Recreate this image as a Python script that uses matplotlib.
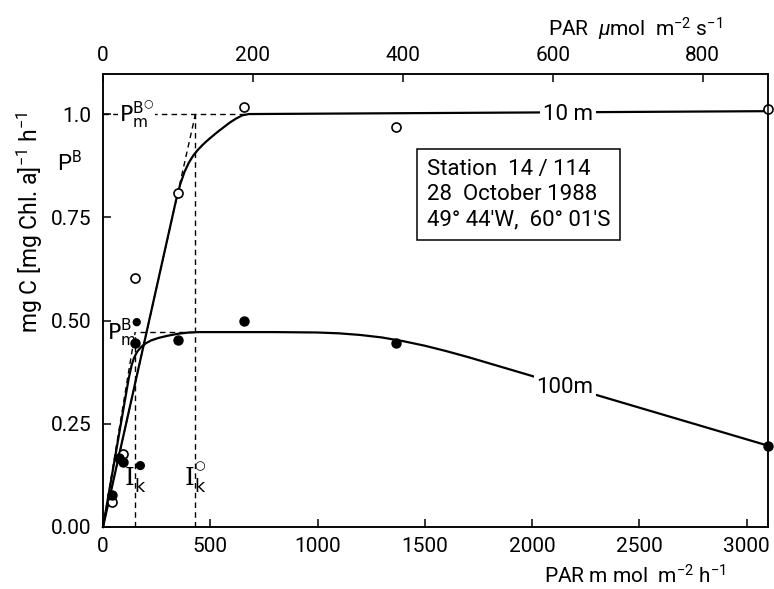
import matplotlib
matplotlib.use("Agg")
import matplotlib.pyplot as plt

plt.rcParams['font.family'] = ['Roboto', 'DejaVu Sans']
plt.rcParams['mathtext.fontset'] = 'custom'
plt.rcParams['mathtext.rm'] = 'Roboto'
plt.rcParams['mathtext.it'] = 'Roboto:italic'
plt.rcParams['mathtext.bf'] = 'Roboto:bold'
plt.rcParams['mathtext.sf'] = 'Roboto'

# Measured P^B values: 10 m (open circles) and 100 m (filled circles)
par_10m = [40, 95, 150, 350, 655, 1365, 3100]
pb_10m = [0.06, 0.177, 0.603, 0.808, 1.017, 0.969, 1.012]
par_100m = [40, 75, 95, 150, 350, 655, 1365, 3100]
pb_100m = [0.078, 0.167, 0.158, 0.445, 0.454, 0.499, 0.445, 0.196]

# Fitted P-I curves
fit_par_10m = [0, 340, 360, 380, 400, 420, 440, 460, 480, 500, 530, 560, 590,
               620, 650, 680, 3100]
fit_pb_10m = [0, 0.79, 0.83, 0.86, 0.882, 0.899, 0.912, 0.923, 0.933, 0.942,
              0.955, 0.967, 0.979, 0.989, 0.997, 1.0, 1.007]
fit_par_100m = [0, 120, 134, 145, 160, 180, 200, 225, 260, 300, 350, 400, 450,
                800, 1000, 1100, 1200, 1300, 1400, 1500, 1600, 1705, 3100]
fit_pb_100m = [0, 0.36, 0.393, 0.41, 0.425, 0.437, 0.445, 0.452, 0.458, 0.463,
               0.468, 0.471, 0.472, 0.472, 0.471, 0.469, 0.465, 0.459, 0.450,
               0.439, 0.426, 0.411, 0.197]

# Photosynthetic parameters (P_m^B and I_k)
pm_10m, ik_10m = 1.0, 431
pm_100m, ik_100m = 0.472, 150

x_ticks = [0, 500, 1000, 1500, 2000, 2500, 3000]
x_top_ticks = [0, 200, 400, 600, 800]
y_ticks = [0.0, 0.25, 0.5, 0.75, 1.0]
y_ticklabels = ['0.00', '0.25', '0.50', '0.75', '1.0']

fig = plt.figure(figsize=(7.74, 5.89), dpi=100)
ax = fig.add_axes([103 / 774, 62 / 589, 665 / 774, 453 / 589])
ax.set_xlim(0, 3100)
ax.set_ylim(0, 1.097)

dash = dict(color='black', lw=1.0, ls=(0, (4, 3)), zorder=2)
# 10 m: P_m line, I_k line and initial slope
ax.plot([0, 660], [pm_10m, pm_10m], **dash)
ax.plot([ik_10m, ik_10m], [0, pm_10m], **dash)
ax.plot([0, ik_10m], [0, pm_10m], **dash)
# 100 m
ax.plot([172, 431], [pm_100m, pm_100m], **dash)
ax.plot([ik_100m, ik_100m], [0, pm_100m], **dash)
ax.plot([0, ik_100m], [0, pm_100m], **dash)

ax.plot(fit_par_10m, fit_pb_10m, color='black', lw=1.6, zorder=3, clip_on=False)
ax.plot(fit_par_100m, fit_pb_100m, color='black', lw=1.6, zorder=3, clip_on=False)

ax.plot(par_10m, pb_10m, ls='none', marker='o', ms=6.5, mfc='white', mec='black',
        mew=1.2, zorder=5, clip_on=False)
ax.plot(par_100m, pb_100m, ls='none', marker='o', ms=6.5, mfc='black', mec='black',
        zorder=5, clip_on=False)

# Curve labels
ax.text(2168, 1.0, '10 m', fontsize=16, ha='center', va='center', zorder=4,
        bbox=dict(fc='white', ec='none', pad=2))
ax.text(2154, 0.339, '100m', fontsize=16, ha='center', va='center', zorder=4,
        bbox=dict(fc='white', ec='none', pad=2))

# P_m^B labels (open ring = 10 m, dot = 100 m)
ax.annotate('$\\mathsf{P}_\\mathsf{m}^{\\mathsf{B}^{\u25cb}}$', xy=(0, pm_10m),
            xytext=(16, 0), textcoords='offset pixels', fontsize=16, ha='left',
            va='center', zorder=4, math_fontfamily='dejavusans',
            bbox=dict(fc='white', ec='none', pad=0.5))
ax.annotate('$\\mathsf{P}_\\mathsf{m}^{\\mathsf{B}^{\u25cf}}$', xy=(0, pm_100m),
            xytext=(4, 0), textcoords='offset pixels', fontsize=16, ha='left',
            va='center', zorder=4, math_fontfamily='dejavusans')

# I_k labels
ax.annotate('$\\mathrm{I}_\\mathsf{k}^{{}^{\u25cf}}$', xy=(ik_100m, 0.119),
            xytext=(-11, 0), textcoords='offset pixels', fontsize=18, ha='left',
            va='center', math_fontfamily='dejavuserif')
ax.annotate('$\\mathrm{I}_\\mathsf{k}^{{}^{\u25cb}}$', xy=(ik_10m, 0.119),
            xytext=(-11, 0), textcoords='offset pixels', fontsize=18, ha='left',
            va='center', math_fontfamily='dejavuserif')

# P^B symbol beside the y axis
ax.text(-0.069, 0.88, r'P$^\mathrm{B}$', transform=ax.get_yaxis_transform(),
        fontsize=16, ha='left', va='center')

# Station box
ax.text(0.487, 0.812, 'Station  14 / 114\n28  October 1988\n49° 44\'W,  60° 01\'S',
        transform=ax.transAxes, fontsize=16, ha='left', va='top', linespacing=1.25,
        bbox=dict(boxstyle='square,pad=0.45', fc='white', ec='black', lw=1.1))

ax.set_xticks(x_ticks)
ax.set_xticklabels([str(v) for v in x_ticks])
ax.set_yticks(y_ticks)
ax.set_yticklabels(y_ticklabels)
ax.tick_params(axis='x', direction='in', length=6, width=1.1, labelsize=15, pad=7)
ax.tick_params(axis='y', direction='in', length=6, width=1.1, labelsize=15, pad=8.5)
for s in ax.spines.values():
    s.set_linewidth(1.1)

ax.set_xlabel(r'PAR m mol  m$^{-2}$ h$^{-1}$', fontsize=15)
ax.xaxis.set_label_coords(0.80, -0.108)
ax.xaxis.label.set_va('center')
ax.set_ylabel(r'mg C [mg Chl. a]$^{-1}$ h$^{-1}$', fontsize=16.5)
ax.yaxis.set_label_coords(-0.11, 0.673)
ax.yaxis.label.set_va('center')

ax2 = ax.twiny()
ax2.set_xlim(0, 887)
ax2.set_xticks(x_top_ticks)
ax2.set_xticklabels([str(v) for v in x_top_ticks])
ax2.tick_params(axis='x', direction='in', length=6, width=1.1, labelsize=15, pad=6.5)
for s in ax2.spines.values():
    s.set_linewidth(1.1)
ax2.set_xlabel(r'PAR  $\mu$mol  m$^{-2}$ s$^{-1}$', fontsize=15)
ax2.xaxis.set_label_coords(0.80, 1.099)
ax2.xaxis.label.set_va('center')

fig.savefig('out.png', dpi=100)
